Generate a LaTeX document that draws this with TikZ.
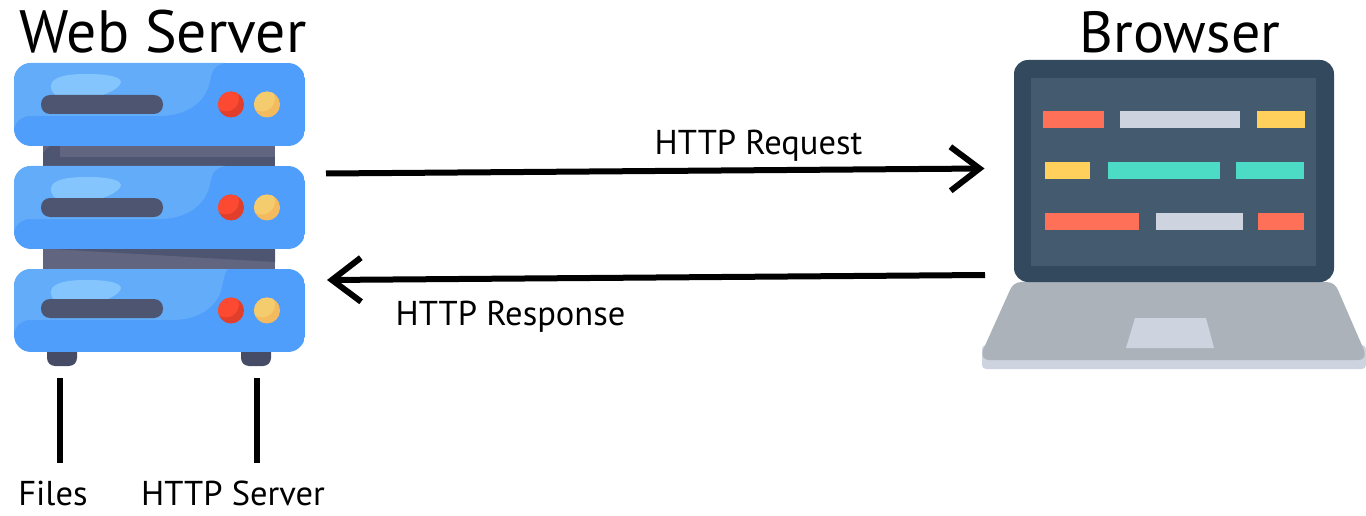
\documentclass[tikz,border=0pt]{standalone}
\usepackage{fontspec}
\setmainfont{PT Sans}
\usetikzlibrary{arrows.meta}
\definecolor{srvmain}{HTML}{509EFB}
\definecolor{srvlight}{HTML}{62ACF9}
\definecolor{srvhi}{HTML}{83C5FC}
\definecolor{srvbar}{HTML}{4E5570}
\definecolor{rackhi}{HTML}{62657F}
\definecolor{srvfoot}{HTML}{474C66}
\definecolor{redA}{HTML}{FC4A32}
\definecolor{redB}{HTML}{E13F2B}
\definecolor{yelA}{HTML}{F4CC6E}
\definecolor{yelB}{HTML}{F3BA5E}
\definecolor{lapdark}{HTML}{33495E}
\definecolor{lapscreen}{HTML}{435A6F}
\definecolor{lapbase}{HTML}{ABB2B9}
\definecolor{lappale}{HTML}{CDD4E0}
\definecolor{lapred}{HTML}{FF7058}
\definecolor{lapyel}{HTML}{FFD15C}
\definecolor{lapteal}{HTML}{4CDBC4}
\newcommand{\curveA}{(225,0) .. controls (212,3) and (212,10) .. (210,18)
        .. controls (206,40) and (185,53) .. (160,53) -- (30,53)
        .. controls (22,53) and (16,58) .. (14,66)}
\newcommand{\curveB}{(228,0) .. controls (224,4) and (224,10) .. (222,18)
        .. controls (218,38) and (198,51) .. (173,51) -- (30,51)
        .. controls (22,51) and (16,56) .. (14,64)}
\tikzset{
  big/.style={font=\fontsize{58}{64}\selectfont,inner sep=0pt,anchor=base},
  mid/.style={font=\fontsize{34.5}{40}\selectfont,inner sep=0pt,anchor=base},
  conn/.style={line width=6pt,black},
  flow/.style={conn,-{Straight Barb[length=29pt,width=44pt,line width=6pt]}},
  pics/unit/.style n args={2}{code={
    \begin{scope}
      \clip[rounded corners=17pt] (14,0) rectangle (305,83);
      \fill[srvmain] (14,0) rectangle (305,83);
      \fill[srvlight] (14,0) -- #2 -- cycle;
    \end{scope}
    \fill[srvhi] (52,19) .. controls (58,12) and (72,11) .. (88,11)
      .. controls (105,11) and (120,13) .. (121,19)
      .. controls (120,26) and (105,32) .. (95,34) -- (58,34)
      .. controls (52,30) and (49,25) .. (52,19) -- cycle;
    \fill[srvbar,rounded corners=9pt] (41,32+#1) rectangle (163,51+#1);
    \fill[redB] (231,41.5) circle (13);
    \begin{scope}
      \clip (231,41.5) circle (13);
      \fill[redA] (226,35.5) circle (13);
    \end{scope}
    \fill[yelB] (267,41.5) circle (13);
    \begin{scope}
      \clip (267,41.5) circle (13);
      \fill[yelA] (262,35.5) circle (13);
    \end{scope}
  }}
}
\begin{document}
\begin{tikzpicture}[x=1pt,y=-1pt]
\useasboundingbox (0,0) rectangle (1366,516);
% racks
\fill[srvbar] (43,146) rectangle (275,166);
\fill[rackhi] (60,146) rectangle (275,157);
\fill[rackhi] (43,153) .. controls (45,150) and (47,148) .. (50,146) -- (43,146) -- cycle;
\fill[rackhi] (43,249) rectangle (275,269);
\fill[srvbar] (53,249) -- (275,262) -- (275,249) -- cycle;
% feet
\fill[srvfoot,rounded corners=8pt] (47,340) -- (47,366) -- (77,366) -- (77,340) -- cycle;
\fill[srvfoot,rounded corners=8pt] (241,340) -- (241,366) -- (271,366) -- (271,340) -- cycle;
% server units
\pic at (0,63) {unit={0}{\curveA}};
\pic at (0,166) {unit={0}{\curveA}};
\pic at (0,269) {unit={-2}{\curveB}};
% laptop
\fill[lappale,rounded corners=4pt] (982,345) -- (982,369) -- (1366,369) -- (1366,345) -- cycle;
\fill[lapbase] (1010,290) .. controls (1012,285) and (1016,282) .. (1022,282)
  -- (1326,282) .. controls (1332,282) and (1336,285) .. (1338,290)
  -- (1364,350) .. controls (1366,356) and (1364,360) .. (1358,360)
  -- (989,360) .. controls (984,360) and (981,356) .. (983,350) -- cycle;
\fill[lappale] (1135,318) -- (1206,318) -- (1214,348) -- (1126,348) -- cycle;
\fill[lapdark,rounded corners=14pt] (1014,60) rectangle (1334,282);
\fill[lapscreen] (1031,78) rectangle (1316,266);
\fill[lapred]  (1043,111) rectangle (1104,128);
\fill[lappale] (1120,111) rectangle (1240,128);
\fill[lapyel]  (1257,111) rectangle (1305,128);
\fill[lapyel]  (1045,162) rectangle (1090,179);
\fill[lapteal] (1108,162) rectangle (1220,179);
\fill[lapteal] (1236,162) rectangle (1304,179);
\fill[lapred]  (1045,213) rectangle (1139,230);
\fill[lappale] (1156,213) rectangle (1243,230);
\fill[lapred]  (1258,213) rectangle (1304,230);
% titles
\node[big,font=\fontsize{59.7}{64}\selectfont] (webserver) at (163,53) {Web Server};
\node[big] (browser) at (1180,53) {Browser};
% connector ends
\coordinate (reqS) at (326,173.5);
\coordinate (reqE) at (984.5,168.5);
\coordinate (resS) at (985,275);
\coordinate (resE) at (327,280);
\coordinate (filesTop) at (60,378);
\coordinate (filesEnd) at (60,463);
\coordinate (httpTop) at (256.5,378);
\coordinate (httpEnd) at (256.5,463);
\draw[flow] (reqS) -- (reqE);
\draw[flow] (resS) -- (resE);
\draw[conn] (filesTop) -- (filesEnd);
\draw[conn] (httpTop) -- (httpEnd);
% labels
\node[mid] (req) at (758.5,155) {HTTP Request};
\node[mid] (res) at (510.5,325) {HTTP Response};
\node[mid] (files) at (53,505.5) {Files};
\node[mid] (httpsrv) at (233,505.5) {HTTP Server};
\end{tikzpicture}
\end{document}
